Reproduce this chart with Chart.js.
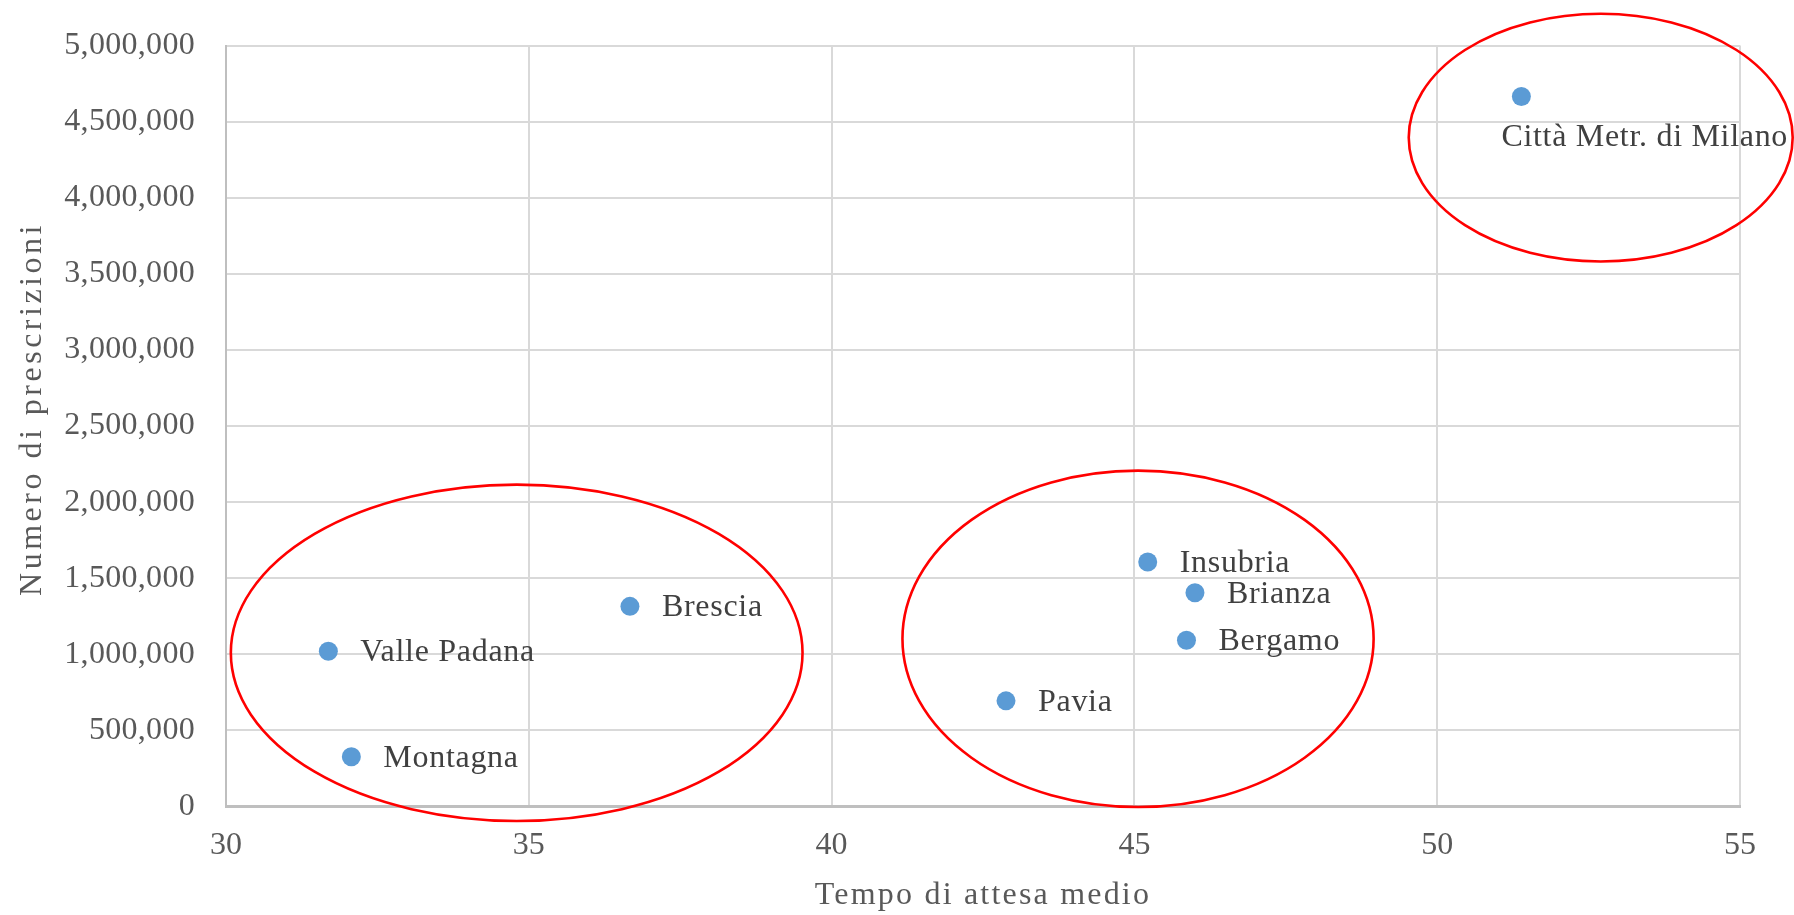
<!DOCTYPE html>
<html lang="it">
<head>
<meta charset="utf-8">
<title>Tempo di attesa medio e numero di prescrizioni</title>
<script src="https://cdn.jsdelivr.net/npm/chart.js@4.4.1/dist/chart.umd.min.js"></script>
<style>
  html, body { margin: 0; padding: 0; background: #ffffff; }
  #wrap { width: 1794px; height: 915px; position: relative; }
</style>
</head>
<body>
<div id="wrap"><canvas id="chart"></canvas></div>
<script>
// Aree territoriali (ATS) della Lombardia
const areas = ['Città Metr. di Milano', 'Brescia', 'Valle Padana', 'Montagna',
               'Insubria', 'Brianza', 'Bergamo', 'Pavia'];
// Tempo di attesa medio (giorni)
const waitTimes = [51.39, 36.67, 31.69, 32.07, 45.22, 46.00, 45.86, 42.88];
// Numero di prescrizioni
const prescriptions = [4665000, 1315000, 1020000, 327000, 1606000, 1405000, 1092000, 694000];

// Raggruppamenti evidenziati (centro e semiassi in unità degli assi)
const clusterCenterX = [34.80, 45.06, 52.70];
const clusterCenterY = [1010000, 1102000, 4395000];
const clusterRadiusX = [4.72, 3.89, 3.17];
const clusterRadiusY = [1105000, 1105000, 814000];

// Tacche degli assi
const xTicks = [30, 35, 40, 45, 50, 55];
const yTicks = [0, 500000, 1000000, 1500000, 2000000, 2500000, 3000000, 3500000, 4000000, 4500000, 5000000];

const FONT = '"Liberation Serif", "Times New Roman", "DejaVu Serif", serif';

const points = waitTimes.map((x, i) => ({ x, y: prescriptions[i] }));

// Spaziatura dei caratteri (e spostamento) per titoli ed etichette degli assi
const spacingPlugin = {
  id: 'axisSpacing',
  afterLayout(chart, args, opts) {
    Object.keys(opts).forEach(id => {
      const scale = chart.scales[id];
      if (!scale || scale._spacingWrapped) return;
      const conf = opts[id];
      const wrap = (name, sp, shift) => {
        const orig = scale[name];
        scale[name] = function (...a) {
          const ctx = this.ctx;
          ctx.save();
          ctx.letterSpacing = sp;
          if (shift) ctx.translate(shift.dx || 0, shift.dy || 0);
          orig.apply(this, a);
          ctx.restore();
        };
      };
      if (conf.title) wrap('drawTitle', conf.title, conf.titleShift);
      if (conf.labels) wrap('drawLabels', conf.labels);
      scale._spacingWrapped = true;
    });
  }
};

// Etichette accanto ai punti
const pointLabelsPlugin = {
  id: 'pointLabels',
  afterDatasetsDraw(chart, args, opts) {
    const { ctx } = chart;
    const meta = chart.getDatasetMeta(0);
    ctx.save();
    ctx.font = `${opts.size}px ${FONT}`;
    ctx.fillStyle = opts.color;
    ctx.textAlign = 'left';
    ctx.textBaseline = 'middle';
    ctx.letterSpacing = opts.spacing;
    meta.data.forEach((el, i) => {
      const off = (opts.offsets && opts.offsets[i]) || opts.defaultOffset;
      ctx.fillText(areas[i], el.x + off.dx, el.y + off.dy);
    });
    ctx.restore();
  }
};

// Ellissi che racchiudono i gruppi
const clusterPlugin = {
  id: 'clusters',
  afterDraw(chart, args, opts) {
    const { ctx, scales } = chart;
    const xs = scales.x, ys = scales.y;
    ctx.save();
    ctx.strokeStyle = opts.color;
    ctx.lineWidth = opts.width;
    clusterCenterX.forEach((cx, i) => {
      const px = xs.getPixelForValue(cx);
      const py = ys.getPixelForValue(clusterCenterY[i]);
      const rx = Math.abs(xs.getPixelForValue(cx + clusterRadiusX[i]) - px);
      const ry = Math.abs(ys.getPixelForValue(clusterCenterY[i] + clusterRadiusY[i]) - py);
      ctx.beginPath();
      ctx.ellipse(px, py, rx, ry, 0, 0, Math.PI * 2);
      ctx.stroke();
    });
    ctx.restore();
  }
};

new Chart(document.getElementById('chart'), {
  type: 'scatter',
  data: {
    datasets: [{
      label: 'Prescrizioni',
      data: points,
      pointRadius: 9.5,
      pointHoverRadius: 9.5,
      pointBackgroundColor: '#5B9BD5',
      pointBorderColor: '#5B9BD5',
      pointBorderWidth: 0
    }]
  },
  options: {
    responsive: true,
    maintainAspectRatio: false,
    animation: false,
    events: [],
    layout: { padding: { top: 45.5, right: 54, bottom: 0, left: 0 } },
    plugins: {
      legend: { display: false },
      tooltip: { enabled: false },
      axisSpacing: {
        x: { title: '2.2px' },
        y: { title: '3.5px', labels: '0.3px', titleShift: { dx: 0, dy: -17 } }
      },
      pointLabels: {
        size: 32,
        color: '#404040',
        spacing: '0.7px',
        defaultOffset: { dx: 32, dy: 1.5 },
        offsets: { 0: { dx: -20, dy: 41 } }
      },
      clusters: { color: '#FF0000', width: 2.6 }
    },
    scales: {
      x: {
        type: 'linear',
        min: 30,
        max: 55,
        afterBuildTicks(scale) { scale.ticks = xTicks.map(v => ({ value: v })); },
        afterFit(scale) { scale.height = 108.5; },
        ticks: {
          padding: 20,
          color: '#595959',
          font: { family: FONT, size: 32 },
          callback: v => String(v)
        },
        grid: { color: '#D9D9D9', lineWidth: 2, drawTicks: false },
        border: { display: true, color: '#BFBFBF', width: 3 },
        title: {
          display: true,
          text: 'Tempo di attesa medio',
          color: '#595959',
          font: { family: FONT, size: 32 },
          padding: { top: 0, bottom: 0 }
        }
      },
      y: {
        type: 'linear',
        min: 0,
        max: 5000000,
        afterBuildTicks(scale) { scale.ticks = yTicks.map(v => ({ value: v })); },
        afterFit(scale) {
          scale.width = 226;
          scale.paddingTop = 0;
          scale.paddingBottom = 0;
        },
        ticks: {
          padding: 31,
          color: '#595959',
          font: { family: FONT, size: 32 },
          callback: v => Number(v).toLocaleString('en-US')
        },
        grid: { color: '#D9D9D9', lineWidth: 2, drawTicks: false },
        border: { display: true, color: '#BFBFBF', width: 2 },
        title: {
          display: true,
          text: 'Numero di prescrizioni',
          color: '#595959',
          font: { family: FONT, size: 32 },
          padding: { top: 13, bottom: 0 }
        }
      }
    }
  },
  plugins: [spacingPlugin, pointLabelsPlugin, clusterPlugin]
});
</script>
</body>
</html>
